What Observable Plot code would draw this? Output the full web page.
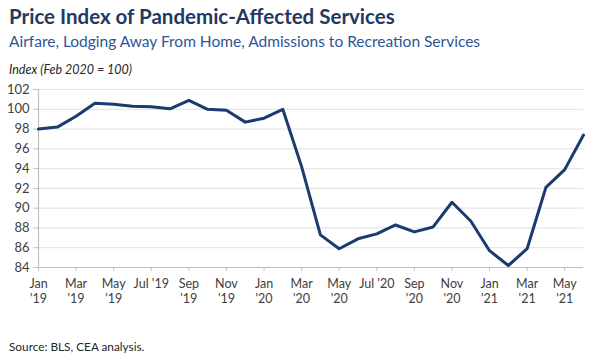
<!DOCTYPE html>
<html>
<head>
<meta charset="utf-8">
<script src="https://cdn.jsdelivr.net/npm/d3@7"></script>
<script src="https://cdn.jsdelivr.net/npm/@observablehq/plot@0.6"></script>
<style>
  html, body { margin: 0; padding: 0; background: #fff; }
  body { width: 597px; height: 357px; position: relative; overflow: hidden; font-family: Lato, "Open Sans", sans-serif; }
  #title { position: absolute; left: 9px; top: 4px; font-size: 20.5px; font-weight: 700; color: #1F3864; white-space: nowrap; }
  #subtitle { position: absolute; left: 9px; top: 32px; font-size: 15.5px; color: #2E5597; white-space: nowrap; }
  #ylabel { position: absolute; left: 9px; top: 62px; font-size: 12.5px; font-style: italic; color: #262626; white-space: nowrap; }
  #chart { position: absolute; left: 0; top: 78px; }
  #source { position: absolute; left: 9px; top: 339px; font-size: 11.8px; color: #262626; white-space: nowrap; }
</style>
</head>
<body>
<div id="title">Price Index of Pandemic-Affected Services</div>
<div id="subtitle">Airfare, Lodging Away From Home, Admissions to Recreation Services</div>
<div id="ylabel">Index (Feb 2020 = 100)</div>
<div id="chart"></div>
<div id="source">Source: BLS, CEA analysis.</div>
<script>
// Monthly, Jan 2019 – Jun 2021
const months = ["Jan 2019","Feb 2019","Mar 2019","Apr 2019","May 2019","Jun 2019","Jul 2019","Aug 2019","Sep 2019","Oct 2019","Nov 2019","Dec 2019",
  "Jan 2020","Feb 2020","Mar 2020","Apr 2020","May 2020","Jun 2020","Jul 2020","Aug 2020","Sep 2020","Oct 2020","Nov 2020","Dec 2020",
  "Jan 2021","Feb 2021","Mar 2021","Apr 2021","May 2021","Jun 2021"];
const values = [98.0, 98.2, 99.3, 100.6, 100.5, 100.3, 100.25, 100.05, 100.9, 100.0, 99.9, 98.7,
  99.1, 100.0, 94.2, 87.3, 85.9, 86.9, 87.4, 88.3, 87.6, 88.1, 90.6, 88.7,
  85.7, 84.2, 85.9, 92.1, 93.9, 97.4];
const tickLabels = ["Jan\n'19","Mar\n'19","May\n'19","Jul '19","Sep\n'19","Nov\n'19","Jan\n'20","Mar\n'20","May\n'20","Jul '20","Sep\n'20","Nov\n'20","Jan\n'21","Mar\n'21","May\n'21"];
const yTicks = [84, 86, 88, 90, 92, 94, 96, 98, 100, 102];

const data = months.map((m, i) => ({i, month: m, value: values[i]}));
const xTicks = tickLabels.map((_, k) => k * 2);

const chart = Plot.plot({
  width: 597,
  height: 229,
  marginLeft: 38,
  marginRight: 14,
  marginTop: 11,
  marginBottom: 40,
  style: {fontFamily: "Lato, 'Open Sans', sans-serif", fontSize: "12px", color: "#404040", background: "#fff"},
  x: {domain: [0, months.length - 1], ticks: xTicks, tickFormat: (d) => tickLabels[d / 2], tickSize: 4, tickPadding: 5, label: null},
  y: {domain: [84, 102], ticks: yTicks, tickSize: 5, tickPadding: 4, label: null},
  marks: [
    Plot.gridY(yTicks.filter(d => d > 84), {stroke: "#E6E6E6", strokeOpacity: 1, strokeWidth: 1.2}),
    Plot.ruleX([0], {stroke: "#BFBFBF", strokeWidth: 1.2}),
    Plot.ruleY([84], {stroke: "#BFBFBF", strokeWidth: 1.2}),
    Plot.axisX({ticks: xTicks, tickFormat: (d) => tickLabels[d / 2], stroke: "#BFBFBF", color: "#404040", fontSize: 12.5, tickSize: 4, tickPadding: 6, lineHeight: 1.2}),
    Plot.axisY({ticks: yTicks, stroke: "#BFBFBF", color: "#404040", fontSize: 13, tickSize: 5, tickPadding: 4}),
    Plot.line(data, {x: "i", y: "value", stroke: "#1B3B6F", strokeWidth: 3, strokeLinejoin: "round", strokeLinecap: "round"})
  ]
});
document.getElementById("chart").appendChild(chart);
</script>
</body>
</html>
